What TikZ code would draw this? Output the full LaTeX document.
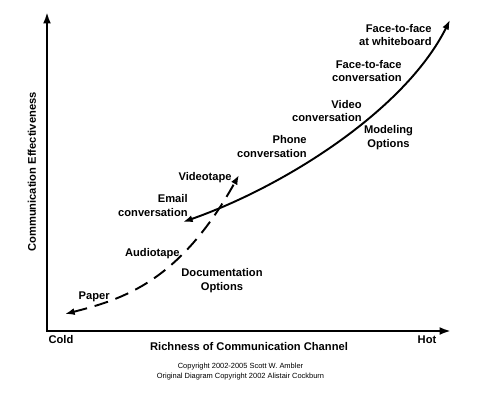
\documentclass[tikz,border=0pt]{standalone}
\usepackage{fontspec}
\setmainfont{Liberation Sans}
\usetikzlibrary{arrows.meta}

\begin{document}
\begin{tikzpicture}[x=0.02cm,y=-0.02cm,
    axis/.style={line width=1.5pt,{Latex[length=6.5pt,width=4.5pt]}-{Latex[length=6.5pt,width=4.5pt]}},
    curve/.style={line width=1.1pt,{Latex[length=5.5pt,width=4pt]}-{Latex[length=5.5pt,width=4pt]}},
    lbl/.style={font=\fontsize{6.35}{7.9}\selectfont\bfseries,inner sep=0pt},
    note/.style={font=\fontsize{4.25}{5.7}\selectfont,inner sep=0pt,align=center}]
    \path[fill=white,use as bounding box] (0,0) rectangle (480,395);

    % draw axes
    \coordinate (efftop) at (47,12);
    \coordinate (origin) at (47,331);
    \coordinate (hotend) at (451,331);
    \draw[axis] (efftop) -- (origin) -- (hotend);

    % axis labels
    \node[lbl,rotate=90] (yaxis) at (32,172) {Communication Effectiveness};
    \node[lbl] (xaxis) at (249,347) {Richness of Communication Channel};
    \node[lbl] (cold) at (61,340) {Cold};
    \node[lbl] (hot) at (427,340) {Hot};

    % draw curves
    \coordinate (emailend) at (183,222);
    \coordinate (boardend) at (450,20);
    \draw[curve] (emailend) .. controls (283,187) and (404.5,111) .. (boardend);
    \coordinate (paperend) at (65,314);
    \coordinate (tapeend) at (239,175);
    \draw[curve,dash pattern=on 8pt off 4.5pt] (paperend) .. controls (124,299) and (180,281) .. (tapeend);

    % modeling options
    \node[lbl,align=right,anchor=east] (board) at (432,35) {Face-to-face\\at whiteboard};
    \node[lbl,align=right,anchor=east] (f2f) at (402,71) {Face-to-face\\conversation};
    \node[lbl,align=right,anchor=east] (video) at (362,111) {Video\\conversation};
    \node[lbl,align=right,anchor=east] (phone) at (307,146.5) {Phone\\conversation};
    \node[lbl,align=center] (modeling) at (388.5,138) {Modeling\\Options};
    \node[lbl,align=right,anchor=east] (email) at (188,205.5) {Email\\conversation};

    % documentation options
    \node[lbl,anchor=east] (videotape) at (232,178) {Videotape};
    \node[lbl,anchor=east] (audiotape) at (180,254) {Audiotape};
    \node[lbl,align=center] (docs) at (222,281) {Documentation\\Options};
    \node[lbl,anchor=east] (paper) at (110,297) {Paper};

    % copyright
    \node[note] (copyright) at (240.5,372) {Copyright 2002-2005 Scott W. Ambler\\Original Diagram Copyright 2002 Alistair Cockburn};
\end{tikzpicture}
\end{document}
